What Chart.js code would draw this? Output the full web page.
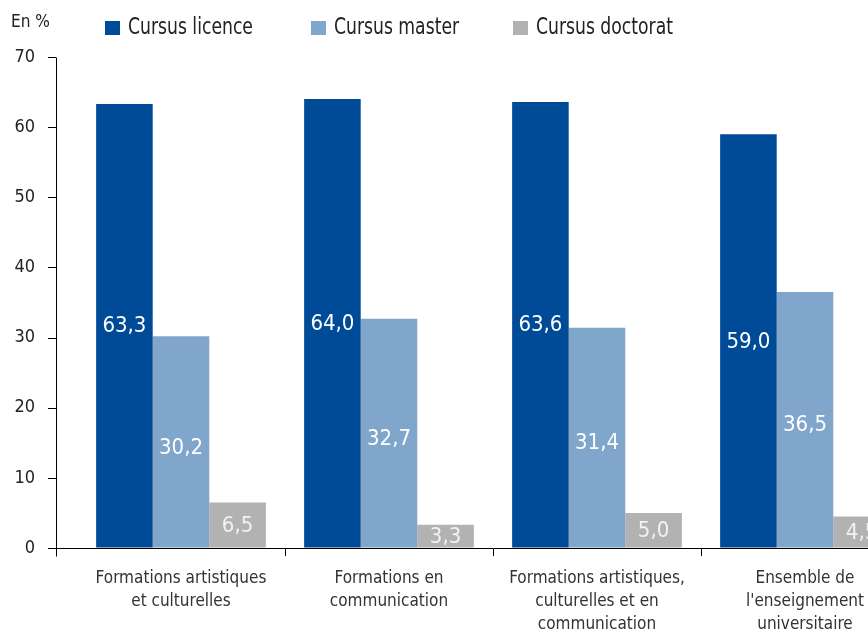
<!DOCTYPE html>
<html lang="fr">
<head>
<meta charset="utf-8">
<script src="https://cdn.jsdelivr.net/npm/chart.js@4/dist/chart.umd.min.js"></script>
<style>
  html, body { margin: 0; padding: 0; background: #fff; overflow: hidden; }
  body { width: 868px; height: 632px; position: relative;
         font-family: "DejaVu Sans Condensed", "DejaVu Sans", sans-serif; }
  #wrap { position: absolute; left: 0; top: 0; width: 912px; height: 632px; }
  .unit { position: absolute; left: 11px; top: 10px; font-size: 18px; color: #222;
          transform: scaleX(0.95); transform-origin: left top; }
  .lg { position: absolute; top: 12px; font-size: 22px; color: #222; white-space: nowrap; }
  .lg i { position: absolute; left: 0; top: 9px; width: 15px; height: 14px; }
  .lg span { position: absolute; left: 23px; top: 1px; transform: scale(0.87, 1.05);
             transform-origin: left top; }
</style>
</head>
<body>
<div id="wrap"><canvas id="chart" width="912" height="632"></canvas></div>
<div class="unit">En %</div>
<div id="legend"></div>
<script>
/* ---------- data ---------- */
const CATEGORIES = [
  ["Formations artistiques", "et culturelles"],
  ["Formations en", "communication"],
  ["Formations artistiques,", "culturelles et en", "communication"],
  ["Ensemble de", "l'enseignement", "universitaire"],
];
const SERIES = ["Cursus licence", "Cursus master", "Cursus doctorat"];
const LICENCE = [63.3, 64.0, 63.6, 59.0];
const MASTER = [30.2, 32.7, 31.4, 36.5];
const DOCTORAT = [6.5, 3.3, 5.0, 4.5];
const Y_TICKS = [0, 10, 20, 30, 40, 50, 60, 70];

/* ---------- styling ---------- */
const FONT = "'DejaVu Sans Condensed', 'DejaVu Sans', sans-serif";
const COLORS = ["#004B97", "#80A6CB", "#B2B2B2"];
const LABEL_COLORS = ["#ffffff", "#ffffff", "#f2f2f2"];
const LEGEND_X = [105, 311, 513];
const AXIS_X = 56; // the drawn y axis sits left of the first category

// html legend
const legend = document.getElementById("legend");
SERIES.forEach((name, i) => {
  const d = document.createElement("div");
  d.className = "lg";
  d.style.left = LEGEND_X[i] + "px";
  d.innerHTML = `<i style="background:${COLORS[i]}"></i><span>${name}</span>`;
  legend.appendChild(d);
});

// axis lines + ticks left of the chart area
const axisPlugin = {
  id: "axisExtra",
  afterDraw(chart) {
    const { ctx, chartArea, scales } = chart;
    const y = scales.y;
    const bottom = Math.round(y.getPixelForValue(0)) + 0.5;
    const top = Math.round(y.getPixelForValue(70)) + 0.5;
    ctx.save();
    ctx.strokeStyle = "#000";
    ctx.lineWidth = 1;
    ctx.beginPath();
    ctx.moveTo(AXIS_X + 0.5, top);
    ctx.lineTo(AXIS_X + 0.5, bottom);
    ctx.moveTo(AXIS_X, bottom);
    ctx.lineTo(chartArea.left, bottom);
    ctx.moveTo(AXIS_X + 0.5, bottom);
    ctx.lineTo(AXIS_X + 0.5, bottom + 8);
    Y_TICKS.forEach((v) => {
      const p = Math.round(y.getPixelForValue(v)) + 0.5;
      ctx.moveTo(AXIS_X - 8, p);
      ctx.lineTo(AXIS_X, p);
    });
    ctx.stroke();
    ctx.restore();
  },
};

// value labels in the middle of each bar, french decimal comma
const valuePlugin = {
  id: "values",
  afterDatasetsDraw(chart) {
    const { ctx } = chart;
    ctx.save();
    ctx.font = `22px ${FONT}`;
    ctx.textAlign = "center";
    ctx.textBaseline = "middle";
    chart.data.datasets.forEach((ds, di) => {
      chart.getDatasetMeta(di).data.forEach((bar, i) => {
        ctx.fillStyle = LABEL_COLORS[di];
        const txt = ds.data[i].toFixed(1).replace(".", ",");
        const yMid = (bar.y + bar.base) / 2 + (di === 1 ? 6 : 1);
        ctx.fillText(txt, bar.x, yMid);
      });
    });
    ctx.restore();
  },
};

new Chart(document.getElementById("chart"), {
  type: "bar",
  data: {
    labels: CATEGORIES,
    datasets: [LICENCE, MASTER, DOCTORAT].map((d, i) => ({
      label: SERIES[i],
      data: d,
      backgroundColor: COLORS[i],
      borderWidth: 0,
      categoryPercentage: 0.816,
      barPercentage: 1,
    })),
  },
  options: {
    responsive: false,
    animation: false,
    layout: { padding: { top: 57, right: 3, bottom: 0, left: 0 } },
    plugins: { legend: { display: false }, tooltip: { enabled: false } },
    scales: {
      x: {
        grid: { offset: true, drawOnChartArea: false, tickLength: 8,
                color: (c) => (c.index === 0 ? "rgba(0,0,0,0)" : "#000") },
        border: { display: true, color: "#000", width: 1 },
        ticks: { color: "#333", font: { family: FONT, size: 17, lineHeight: 1.35 },
                 padding: 11, maxRotation: 0, autoSkip: false },
        afterFit(s) { s.height = 84; },
      },
      y: {
        min: 0, max: 70,
        grid: { display: true, drawOnChartArea: false, drawTicks: false },
        border: { display: false },
        ticks: { stepSize: 10, color: "#222", font: { family: FONT, size: 18 }, padding: 42 },
        afterFit(s) { s.width = 77; },
      },
    },
  },
  plugins: [axisPlugin, valuePlugin],
});
</script>
</body>
</html>
